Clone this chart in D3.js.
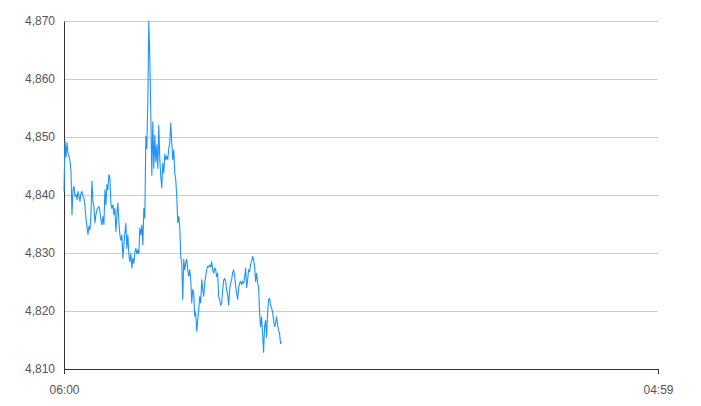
<!DOCTYPE html>
<html>
<head>
<meta charset="utf-8">
<script src="https://cdn.jsdelivr.net/npm/d3@7"></script>
<style>
  body { margin: 0; background: #fff; }
  text { font-family: "Liberation Sans", Arial, sans-serif; }
  .grid line { stroke: #ccc; }
  .grid path { display: none; }
</style>
</head>
<body>
<svg id="chart"></svg>
<script>
"use strict";
// price readings, one per sample (every 139 s from 06:00)
const prices = [
  4840.6, 4849.3, 4846.5, 4849.0, 4847.2, 4846.7, 4845.8, 4844.0, 4836.6, 4840.9,
  4841.5, 4839.8, 4840.1, 4839.2, 4840.6, 4839.8, 4838.9, 4840.3, 4840.6, 4839.8,
  4839.5, 4838.0, 4836.0, 4834.6, 4833.2, 4834.6, 4834.0, 4836.6, 4842.4, 4838.9,
  4838.0, 4835.2, 4836.6, 4837.5, 4837.8, 4838.0, 4837.2, 4835.7, 4834.9, 4836.3,
  4834.9, 4840.9, 4838.3, 4841.8, 4840.9, 4843.5, 4843.0, 4838.5, 4837.7, 4838.3,
  4836.6, 4837.7, 4833.7, 4836.6, 4838.6, 4835.4, 4833.1, 4832.2, 4833.1, 4829.1,
  4831.4, 4833.4, 4835.1, 4830.8, 4833.1, 4829.7, 4828.5, 4829.9, 4827.4, 4829.1,
  4828.2, 4830.2, 4830.8, 4829.9, 4830.5, 4829.9, 4834.3, 4833.1, 4834.8, 4831.4,
  4837.7, 4836.0, 4850.1, 4848.0, 4856.1, 4870.0, 4863.6, 4853.8, 4843.4, 4852.6,
  4844.6, 4850.3, 4845.7, 4848.6, 4844.6, 4852.0, 4846.1, 4843.2, 4841.2, 4845.5,
  4843.8, 4847.0, 4846.1, 4846.7, 4846.1, 4848.1, 4849.0, 4852.4, 4849.0, 4846.1,
  4847.8, 4843.8, 4842.6, 4839.8, 4835.2, 4836.3, 4834.6, 4829.4, 4828.3, 4822.0,
  4828.9, 4827.1, 4828.3, 4828.9, 4827.1, 4826.0, 4827.1, 4825.4, 4821.4, 4823.7,
  4823.1, 4819.1, 4819.7, 4816.5, 4818.5, 4820.2, 4822.5, 4821.4, 4825.4, 4823.7,
  4822.5, 4824.8, 4826.0, 4827.1, 4827.7, 4827.6, 4827.9, 4827.6, 4828.5, 4827.1,
  4826.5, 4827.4, 4827.1, 4825.9, 4826.5, 4822.5, 4821.9, 4821.0, 4821.3, 4823.6,
  4825.3, 4825.6, 4825.1, 4823.6, 4822.8, 4821.0, 4823.7, 4824.8, 4825.4, 4826.6,
  4827.1, 4826.0, 4824.3, 4823.1, 4822.0, 4824.0, 4824.8, 4825.1, 4824.5, 4825.1,
  4824.8, 4825.7, 4827.4, 4824.0, 4825.4, 4827.1, 4826.8, 4828.0, 4828.6, 4829.4,
  4828.8, 4827.7, 4825.1, 4826.5, 4824.8, 4824.2, 4819.6, 4817.3, 4819.0, 4816.1,
  4812.9, 4817.3, 4818.4, 4815.5, 4819.6, 4821.9, 4822.2, 4821.0, 4820.5, 4819.9,
  4818.4, 4817.3, 4817.9, 4819.0, 4817.6, 4816.7, 4816.1, 4814.4, 4814.7
];
const yTicks = [4810, 4820, 4830, 4840, 4850, 4860, 4870];
const sessionStart = new Date(2024, 0, 1, 6, 0);
const sessionEnd = new Date(2024, 0, 2, 4, 59);
const sampleSeconds = 139;

const margin = {top: 21, right: 43, bottom: 37, left: 64},
    width  = 701 - margin.left - margin.right,
    height = 406 - margin.top - margin.bottom;

const data = prices.map((p, i) => ({
    time: new Date(sessionStart.getTime() + i * sampleSeconds * 1000),
    price: p
}));

const svg = d3.select("#chart")
        .attr("width", width + margin.left + margin.right)
        .attr("height", height + margin.top + margin.bottom)
    .append("g")
        .attr("transform", "translate(" + margin.left + "," + margin.top + ")");

const xScale = d3.scaleTime()
    .domain([sessionStart, sessionEnd])
    .range([0, width]);
const yScale = d3.scaleLinear()
    .domain([4810, 4870])
    .range([height, 0]);

// gridlines
svg.append("g")
    .attr("class", "grid")
    .call(d3.axisLeft(yScale)
        .tickValues(yTicks)
        .tickSize(-width)
        .tickFormat(""));

// y axis: line + labels only
const yAxis = svg.append("g")
    .call(d3.axisLeft(yScale)
        .tickValues(yTicks)
        .tickSize(0)
        .tickPadding(9)
        .tickFormat(d3.format(",")));
yAxis.select(".domain").attr("stroke", "#333");
yAxis.selectAll("text").attr("fill", "#555").style("font-size", "12px");

// x axis
const xAxis = svg.append("g")
    .attr("transform", `translate(0, ${height})`)
    .call(d3.axisBottom(xScale)
        .tickValues([sessionStart, sessionEnd])
        .tickSizeInner(5)
        .tickSizeOuter(0)
        .tickPadding(11)
        .tickFormat(d3.timeFormat("%H:%M")));
xAxis.select(".domain").attr("stroke", "#333");
xAxis.selectAll(".tick line").attr("stroke", "#333");
xAxis.selectAll("text").attr("fill", "#555").style("font-size", "12px");

// price line
const line = d3.line()
    .x(d => xScale(d.time))
    .y(d => yScale(d.price));
svg.append("path")
    .datum(data)
    .attr("fill", "none")
    .attr("stroke", "#1e93ff")
    .attr("stroke-width", 1.1)
    .attr("stroke-linejoin", "round")
    .attr("d", line);
</script>
</body>
</html>
